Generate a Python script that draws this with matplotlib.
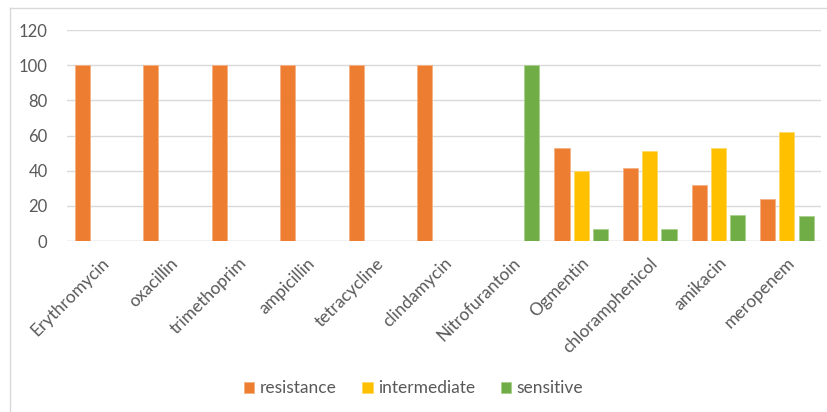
import matplotlib.pyplot as plt
import numpy as np

# antibiotic categories
drugs = ['Erythromycin', 'oxacillin', 'trimethoprim', 'ampicillin', 'tetracycline',
         'clindamycin', 'Nitrofurantoin', 'Ogmentin', 'chloramphenicol', 'amikacin', 'meropenem']

# percentages per category
resistance = [100, 100, 100, 100, 100, 100, 0, 53, 41.5, 32, 24]
intermediate = [0, 0, 0, 0, 0, 0, 0, 40, 51, 53, 62]
sensitive = [0, 0, 0, 0, 0, 0, 100, 6.7, 6.7, 15, 14]

series_names = ['resistance', 'intermediate', 'sensitive']
colors = ['#ED7D31', '#FFC000', '#70AD47']
edges = ['#F4B183', '#FFD966', '#A9D18E']

plt.rcParams['font.family'] = ['Lato', 'DejaVu Sans']
text_col = '#595959'

fig = plt.figure(figsize=(8.27, 4.12), dpi=100)
ax = fig.add_axes([0.081, 0.415, 0.912, 0.512])

x = np.arange(len(drugs))
width = 0.22
step = 0.28
for k, (vals, name) in enumerate(zip([resistance, intermediate, sensitive], series_names)):
    ax.bar(x + (k - 1) * step, vals, width, color=colors[k], edgecolor=edges[k],
           linewidth=0.6, label=name, zorder=3)

ax.set_xlim(-0.5, len(drugs) - 0.5)
ax.set_ylim(0, 120)
ax.set_yticks(np.arange(0, 121, 20))
ax.yaxis.grid(True, color='#D9D9D9', linewidth=1, zorder=0)
for s in ax.spines.values():
    s.set_visible(False)
ax.axhline(0, color='#D9D9D9', linewidth=1, zorder=1)
ax.tick_params(axis='both', length=0, colors=text_col)
ax.tick_params(axis='y', pad=14, labelsize=12)
ax.tick_params(axis='x', pad=10, labelsize=12.5)
ax.set_xticks(x)
ax.set_xticklabels(drugs, rotation=45, ha='right', rotation_mode='anchor')

fig.legend(loc='lower center', bbox_to_anchor=(0.5, 0.0), ncol=3, frameon=False,
           fontsize=12.5, labelcolor=text_col, handlelength=0.6, handleheight=0.6,
           handletextpad=0.3, columnspacing=1.5)

# light frame lines on the left and top of the chart area
fig.add_artist(plt.Line2D([0.012, 0.012], [0, 0.981], color='#D9D9D9', linewidth=1))
fig.add_artist(plt.Line2D([0.012, 1], [0.981, 0.981], color='#D9D9D9', linewidth=1))

fig.savefig('out.png', dpi=100)
